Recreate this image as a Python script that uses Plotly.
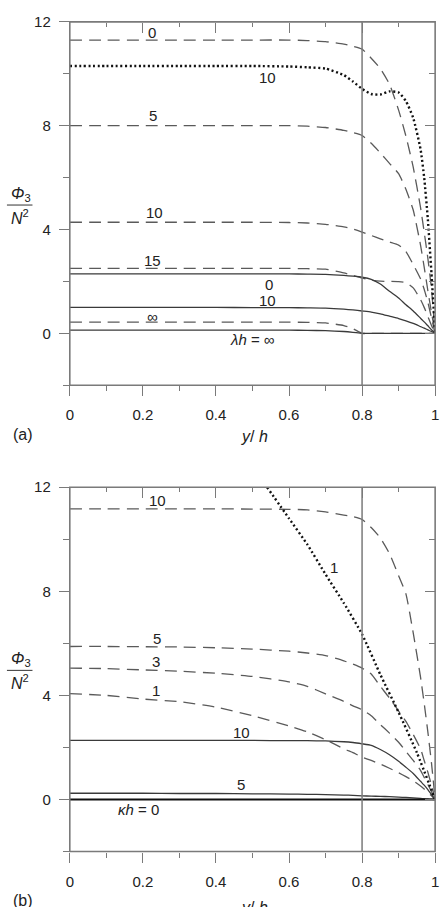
import plotly.graph_objects as go

# y/h grid shared by the profiles
yh = [0, 0.1, 0.2, 0.3, 0.4, 0.5, 0.6, 0.65, 0.7, 0.75, 0.775, 0.8,
      0.825, 0.85, 0.875, 0.9, 0.92, 0.94, 0.96, 0.97, 0.98, 0.99, 1.0]

# panel (a): dashed curves (labels 0, 5, 10, 15, inf)
a_dash_0 = [11.3, 11.3, 11.3, 11.3, 11.3, 11.3, 11.3, 11.28, 11.24, 11.14, 11.06, 10.95,
            10.6, 10.2, 9.6, 8.6, 7.6, 6.4, 4.85, 3.9, 2.9, 1.7, 0]
a_dash_5 = [8.0, 8.0, 8.0, 8.0, 8.0, 8.0, 8.0, 7.98, 7.93, 7.82, 7.73, 7.62,
            7.32, 6.95, 6.55, 6.15, 5.55, 4.75, 3.4, 2.55, 1.65, 0.8, 0]
a_dash_10 = [4.28, 4.28, 4.28, 4.28, 4.28, 4.28, 4.27, 4.25, 4.2, 4.1, 4.02, 3.9,
             3.77, 3.64, 3.52, 3.4, 3.15, 2.65, 2.1, 1.7, 1.2, 0.6, 0]
a_dash_15 = [2.5, 2.5, 2.5, 2.5, 2.5, 2.5, 2.5, 2.49, 2.47, 2.33, 2.23, 2.13,
             2.05, 2.01, 2.0, 1.99, 1.95, 1.75, 1.3, 1.0, 0.65, 0.3, 0]
a_dash_inf = [0.43, 0.43, 0.43, 0.43, 0.43, 0.43, 0.43, 0.42, 0.4, 0.3, 0.18, 0,
              0, 0, 0, 0, 0, 0, 0, 0, 0, 0, 0]
# panel (a): solid curves (labels 0, 10, lambda h = inf)
a_solid_0 = [2.29, 2.29, 2.29, 2.29, 2.29, 2.29, 2.29, 2.28, 2.27, 2.23, 2.2, 2.16,
             2.08, 1.9, 1.62, 1.36, 1.1, 0.86, 0.58, 0.44, 0.29, 0.14, 0]
a_solid_10 = [1.0, 1.0, 1.0, 1.0, 1.0, 0.99, 0.99, 0.98, 0.97, 0.93, 0.9, 0.86,
              0.82, 0.75, 0.66, 0.57, 0.48, 0.38, 0.26, 0.2, 0.13, 0.07, 0]
a_solid_inf = [0.12, 0.12, 0.12, 0.12, 0.12, 0.12, 0.12, 0.115, 0.1, 0.07, 0.04, 0,
               0, 0, 0, 0, 0, 0, 0, 0, 0, 0, 0]
# panel (a): dotted curve (label 10)
a_dot_10 = [10.3, 10.3, 10.3, 10.3, 10.3, 10.3, 10.28, 10.25, 10.2, 9.95, 9.7, 9.42,
            9.22, 9.2, 9.32, 9.28, 8.95, 8.3, 7.1, 6.0, 4.4, 2.3, 0]

# panel (b): dashed curves (labels 10, 5, 3, 1)
b_dash_10 = [11.17, 11.17, 11.17, 11.17, 11.17, 11.16, 11.15, 11.13, 11.05, 10.93, 10.87, 10.76,
             10.45, 10.05, 9.45, 8.6, 7.9, 6.4, 4.7, 3.7, 2.6, 1.4, 0]
b_dash_5 = [5.88, 5.88, 5.87, 5.86, 5.83, 5.78, 5.7, 5.63, 5.53, 5.33, 5.2, 5.05,
            4.82, 4.35, 3.9, 3.4, 3.0, 2.5, 1.95, 1.5, 1.05, 0.55, 0]
b_dash_3 = [5.05, 5.03, 4.98, 4.93, 4.85, 4.73, 4.52, 4.35, 4.06, 3.77, 3.6, 3.45,
            3.22, 2.88, 2.55, 2.2, 1.85, 1.5, 1.12, 0.85, 0.58, 0.3, 0]
b_dash_1 = [4.07, 4.0, 3.86, 3.76, 3.55, 3.22, 2.83, 2.6, 2.3, 1.95, 1.8, 1.63,
            1.5, 1.36, 1.2, 1.03, 0.88, 0.72, 0.52, 0.4, 0.27, 0.14, 0]
# panel (b): solid curves (labels 10, 5, kappa h = 0)
b_solid_10 = [2.27, 2.27, 2.27, 2.27, 2.27, 2.27, 2.26, 2.26, 2.25, 2.22, 2.19, 2.14,
              2.08, 1.92, 1.72, 1.47, 1.24, 1.0, 0.7, 0.55, 0.38, 0.19, 0]
b_solid_5 = [0.24, 0.24, 0.24, 0.23, 0.23, 0.22, 0.21, 0.2, 0.19, 0.17, 0.16, 0.14,
             0.13, 0.12, 0.11, 0.09, 0.08, 0.06, 0.04, 0.03, 0.02, 0.01, 0]
b_solid_0 = [0] * len(yh)
# panel (b): dotted curve (label 1), only visible for y/h > 0.54
b_dot_x = [0.54, 0.6, 0.65, 0.7, 0.75, 0.8, 0.85, 0.9, 0.95, 1.0]
b_dot_1 = [12.0, 10.8, 9.8, 8.65, 7.55, 6.35, 4.8, 3.35, 1.8, 0]

wall = 0.8

W, H = 447, 907
FONT = "Liberation Sans, Arial, sans-serif"
AX = "#7a7a7a"
DASH_COL = "#5a5a5a"
SOLID_COL = "#3a3a3a"


def px_x(p):
    return p / W


def px_y(p):
    return 1 - p / H


fig = go.Figure()

dash_style = dict(color=DASH_COL, width=1.3, dash="12px,7px", shape="spline", smoothing=0.5)
solid_style = dict(color=SOLID_COL, width=1.3, shape="spline", smoothing=0.5)
dot_style = dict(color="#111111", width=2.4, dash="2px,2.6px", shape="spline", smoothing=0.5)


def add(x, y, style, xa, ya, opacity=1):
    fig.add_trace(go.Scatter(x=x, y=y, mode="lines", line=style, xaxis=xa, yaxis=ya,
                             opacity=opacity, showlegend=False, hoverinfo="skip"))


# (a)
for s in [a_dash_0, a_dash_5, a_dash_10, a_dash_15, a_dash_inf]:
    add(yh, s, dash_style, "x", "y")
for s in [a_solid_0, a_solid_10, a_solid_inf]:
    add(yh, s, solid_style, "x", "y")
add(yh, a_dot_10, dot_style, "x", "y")

# (b)
for s in [b_dash_10, b_dash_5, b_dash_3, b_dash_1]:
    add(yh, s, dash_style, "x2", "y2")
for s in [b_solid_10, b_solid_5]:
    add(yh, s, solid_style, "x2", "y2")
add(yh, b_solid_0, dict(color="#111111", width=2.2), "x2", "y2")
add(b_dot_x, b_dot_1, dot_style, "x2", "y2")

# transparent copies so the top (x3, x4) and right (y3, y4) tick axes get a subplot
add(yh, a_solid_inf, solid_style, "x3", "y", opacity=0)
add(yh, a_solid_inf, solid_style, "x", "y3", opacity=0)
add(yh, b_solid_0, solid_style, "x4", "y2", opacity=0)
add(yh, b_solid_0, solid_style, "x2", "y4", opacity=0)

xdom = [px_x(67), px_x(439)]
dom_a = [px_y(380), px_y(13)]
dom_b = [px_y(851), px_y(483)]

tickfont = dict(family=FONT, size=15, color="#222")


def xaxis(dom, anchor):
    return dict(domain=dom, anchor=anchor, range=[0, 1], showline=False,
                ticks="outside", ticklen=10, tickwidth=1.3, tickcolor=AX, tick0=0, dtick=0.2,
                minor=dict(dtick=0.1, ticks="outside", ticklen=5, tickwidth=1.3, tickcolor=AX),
                ticklabelstandoff=6, ticklabeloverflow="allow", tickfont=tickfont,
                showgrid=False, zeroline=False)


def yaxis(dom, anchor):
    return dict(domain=dom, anchor=anchor, range=[-2, 12], showline=False,
                ticks="outside", ticklen=10, tickwidth=1.3, tickcolor=AX, tick0=0, dtick=4,
                minor=dict(dtick=2, ticks="outside", ticklen=6, tickwidth=1.3, tickcolor=AX),
                ticklabelstandoff=5, tickfont=tickfont, showgrid=False, zeroline=False)


def top_axis(dom, pos):
    return dict(domain=dom, anchor="free", position=pos, side="top", range=[0, 1], showline=False,
                ticks="inside", ticklen=10, tickwidth=1.3, tickcolor=AX, tick0=0, dtick=0.2,
                minor=dict(dtick=0.1, ticks="inside", ticklen=4, tickwidth=1.3, tickcolor=AX),
                showticklabels=False, showgrid=False, zeroline=False)


def right_axis(dom, pos):
    return dict(domain=dom, anchor="free", position=pos, side="right", range=[-2, 12], showline=False,
                ticks="inside", ticklen=10, tickwidth=1.3, tickcolor=AX, tick0=0, dtick=4,
                minor=dict(dtick=2, ticks="inside", ticklen=6, tickwidth=1.3, tickcolor=AX),
                showticklabels=False, showgrid=False, zeroline=False)


fig.update_layout(
    width=W, height=H, margin=dict(l=0, r=0, t=0, b=0),
    paper_bgcolor="white", plot_bgcolor="rgba(0,0,0,0)",
    font=dict(family=FONT, color="#222"),
    xaxis=xaxis(xdom, "y"), yaxis=yaxis(dom_a, "x"),
    xaxis2=xaxis(xdom, "y2"), yaxis2=yaxis(dom_b, "x2"),
    xaxis3=top_axis(xdom, dom_a[1]), yaxis3=right_axis(dom_a, xdom[1]),
    xaxis4=top_axis(xdom, dom_b[1]), yaxis4=right_axis(dom_b, xdom[1]),
)

# frame round each panel and the wall at y/h = 0.8
for xr, yr in [("x", "y"), ("x2", "y2")]:
    fig.add_shape(type="rect", xref=xr + " domain", yref=yr + " domain", x0=0, x1=1, y0=0, y1=1,
                  line=dict(color=AX, width=1.6), layer="above")
    fig.add_shape(type="line", xref=xr, yref=yr + " domain", x0=wall, x1=wall, y0=0, y1=1,
                  line=dict(color=AX, width=1.5))

lab = dict(family=FONT, size=15, color="#222")
labels_a = [("0", 0.225, 11.6), ("10", 0.54, 9.87), ("5", 0.227, 8.38), ("10", 0.231, 4.66),
            ("15", 0.227, 2.82), ("0", 0.544, 1.9), ("10", 0.542, 1.27), ("∞", 0.227, 0.63),
            ("<i>λh</i> = ∞", 0.50, -0.25)]
labels_b = [("10", 0.24, 11.48), ("1", 0.723, 8.9), ("5", 0.24, 6.2), ("3", 0.236, 5.29),
            ("1", 0.236, 4.2), ("10", 0.47, 2.56), ("5", 0.468, 0.56), ("<i>κh</i> = 0", 0.189, -0.39)]
for t, x, y in labels_a:
    fig.add_annotation(text=t, x=x, y=y, xref="x", yref="y", showarrow=False, font=lab)
for t, x, y in labels_b:
    fig.add_annotation(text=t, x=x, y=y, xref="x2", yref="y2", showarrow=False, font=lab)

# y-axis label Phi_3 / N^2, x-axis titles, panel tags (paper coords, centred)
yl = dict(family=FONT, size=16, color="#222")


def note(text, x, y, font=yl):
    fig.add_annotation(text=text, x=px_x(x), y=px_y(y), xref="paper", yref="paper",
                       xanchor="center", yanchor="middle", showarrow=False, font=font)


for top in [0, 470]:
    note("<i>Φ</i><sub>3</sub>", 17, 187 + top)
    note("<i>N</i><sup>2</sup>", 16, 210 + top)
    fig.add_shape(type="line", xref="paper", yref="paper", x0=px_x(3), x1=px_x(29),
                  y0=px_y(198 + top), y1=px_y(198 + top), line=dict(color="#333", width=1))

note("<i>y</i>/ <i>h</i>", 255, 432)
note("<i>y</i>/ <i>h</i>", 255, 908)
note("(a)", 19, 430)
note("(b)", 19, 900)

# drop the default body margin so the 447x907 figure fills the window exactly
fig.write_html("out.html", config={"displayModeBar": False},
               post_script="document.body.style.margin='0';")
